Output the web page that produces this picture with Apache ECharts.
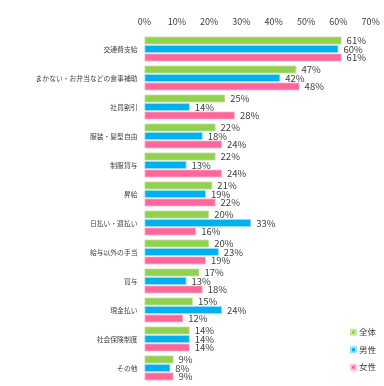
<!DOCTYPE html>
<html><head><meta charset="utf-8">
<script src="https://cdn.jsdelivr.net/npm/echarts@6/dist/echarts.min.js"></script>
<style>html,body{margin:0;padding:0;background:#fff}#c{width:384px;height:386px}</style>
</head><body><div id="c"></div>
<script>
const categories = ['交通費支給','まかない・お弁当などの食事補助','社員割引','服装・髪型自由','制服貸与','昇給','日払い・週払い','給与以外の手当','賞与','現金払い','社会保険制度','その他'];
const seriesNames = ['全体','男性','女性'];
const allValues = [61,47,25,22,22,21,20,20,17,15,14,9];
const maleValues = [60,42,14,18,13,19,33,23,13,24,14,8];
const femaleValues = [61,48,28,24,24,22,16,19,18,12,14,9];
const colors = ['#92D050','#00B0F0','#FF6699'];
const borders = ['#C8E8A8','#99DFF9','#FFC2D6'];
const font = "'Noto Sans CJK JP', sans-serif";
const chart = echarts.init(document.getElementById('c'));
function mk(name, data, color, bc){
  return {name, type:'bar', data, barWidth:8, barGap:'6%',
    itemStyle:{color, borderColor:bc, borderWidth:0.8},
    label:{show:true, position:'right', distance:5, formatter:'{c}%', color:'#404040', fontSize:9.5, fontFamily:font}};
}
chart.setOption({
  animation:false,
  grid:{left:144.5, right:13.3, top:34.5, bottom:3.5, containLabel:false},
  legend:{orient:'vertical', right:8, top:328, padding:0, itemWidth:5, itemHeight:5, itemGap:9,
    icon:'rect', textStyle:{fontSize:8.5, color:'#404040', fontFamily:font, padding:[0,0,0,-2]}, data:seriesNames},
  xAxis:{type:'value', position:'top', min:0, max:70, interval:10,
    axisLabel:{formatter:'{value}%', fontSize:9, color:'#404040', fontFamily:font, margin:8},
    splitLine:{show:false}, axisLine:{show:false}, axisTick:{show:false}},
  yAxis:{type:'category', inverse:true, data:categories,
    axisLabel:{fontSize:6.8, color:'#404040', fontFamily:font, margin:7},
    axisLine:{show:false}, axisTick:{show:false}},
  series:[mk(seriesNames[0], allValues, colors[0], borders[0]), mk(seriesNames[1], maleValues, colors[1], borders[1]), mk(seriesNames[2], femaleValues, colors[2], borders[2])]
});
</script></body></html>
